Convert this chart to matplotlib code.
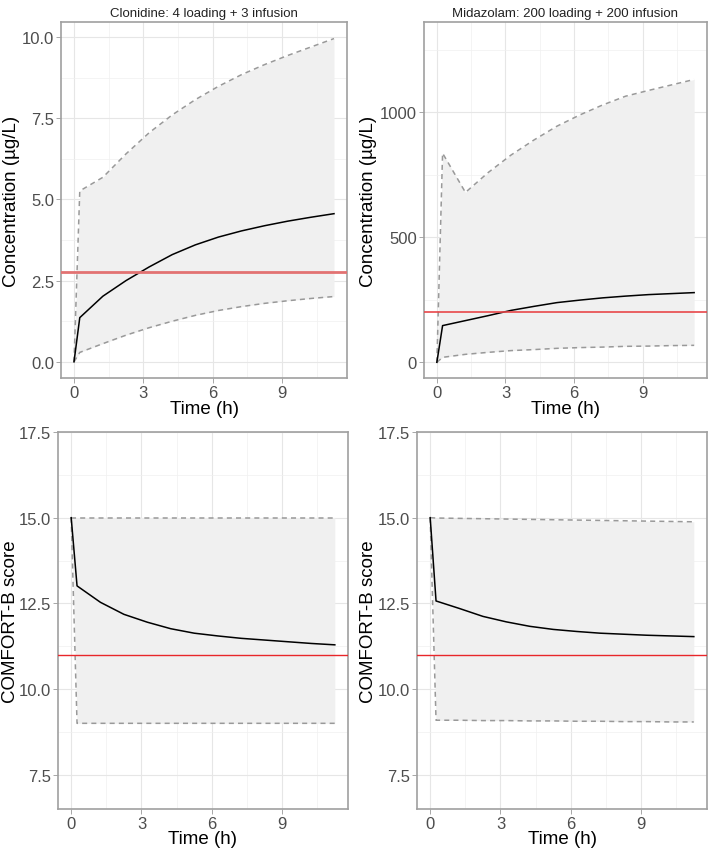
import matplotlib.pyplot as plt
import numpy as np

plt.rcParams['font.family'] = ['Liberation Sans', 'DejaVu Sans']

# time points (h)
time = [0, 0.25, 1.25, 2.25, 3.25, 4.25, 5.25, 6.25, 7.25, 8.25, 9.25, 10.25, 11.25]

# clonidine concentration (ug/L)
clon_med = [0, 1.36, 2.02, 2.50, 2.92, 3.30, 3.60, 3.84, 4.03, 4.19, 4.33, 4.45, 4.56]
clon_lo = [0, 0.29, 0.56, 0.82, 1.05, 1.25, 1.43, 1.58, 1.70, 1.80, 1.88, 1.95, 2.01]
clon_hi = [0, 5.26, 5.68, 6.40, 7.05, 7.60, 8.07, 8.48, 8.84, 9.15, 9.43, 9.69, 9.95]
clon_target = 2.75

# midazolam concentration (ug/L)
mida_med = [0, 147, 167, 187, 208, 224, 239, 249, 258, 265, 271, 275, 279]
mida_lo = [0, 20, 32, 40, 47, 51, 56, 59, 61, 64, 65, 67, 68]
mida_hi = [0, 837, 680, 760, 830, 890, 945, 990, 1030, 1065, 1088, 1110, 1132]
mida_target = 203

# COMFORT-B scores
comf_clon_med = [15, 13.01, 12.53, 12.18, 11.95, 11.76, 11.63, 11.55, 11.48, 11.43, 11.38, 11.33, 11.29]
comf_clon_lo = [15, 9.0, 9.0, 9.0, 9.0, 9.0, 9.0, 9.0, 9.0, 9.0, 9.0, 9.0, 9.0]
comf_clon_hi = [15, 15, 15, 15, 15, 15, 15, 15, 15, 15, 15, 15, 15]
comf_mida_med = [15, 12.57, 12.35, 12.12, 11.96, 11.83, 11.74, 11.68, 11.63, 11.60, 11.57, 11.55, 11.53]
comf_mida_lo = [15, 9.09, 9.09, 9.08, 9.08, 9.07, 9.07, 9.06, 9.06, 9.05, 9.05, 9.04, 9.04]
comf_mida_hi = [15, 14.99, 14.98, 14.97, 14.96, 14.95, 14.94, 14.93, 14.92, 14.91, 14.90, 14.89, 14.88]
comf_target = 11

titles = ['Clonidine: 4 loading + 3 infusion', 'Midazolam: 200 loading + 200 infusion']

W, H = 709, 854
fig = plt.figure(figsize=(W / 100, H / 100), dpi=100)


def make_ax(l, r, t, b):
    return fig.add_axes([l / W, 1 - b / H, (r - l) / W, (b - t) / H])


def draw(ax, med, lo, hi, target, ylim, yticks, ylabels, yminor, ylab,
         ylab_x, xlab_y, red_lw=1.0, red_col='#e8262a'):
    ax.set_facecolor('white')
    ax.fill_between(time, lo, hi, color='#f0f0f0', lw=0, zorder=1)
    ax.plot(time, hi, color='#999999', lw=1.1, ls=(0, (3.3, 2.7)), zorder=3)
    ax.plot(time, lo, color='#999999', lw=1.1, ls=(0, (3.3, 2.7)), zorder=3)
    ax.plot(time, med, color='black', lw=1.1, zorder=4)
    ax.axhline(target, color=red_col, lw=red_lw, zorder=5)
    ax.set_xlim(-0.5625, 11.8125)
    ax.set_ylim(*ylim)
    ax.set_xticks([0, 3, 6, 9])
    ax.set_xticks([1.5, 4.5, 7.5, 10.5], minor=True)
    ax.set_yticks(yticks)
    ax.set_yticklabels(ylabels)
    ax.set_yticks(yminor, minor=True)
    ax.grid(True, which='major', color='#e6e6e6', lw=0.8, zorder=0)
    ax.grid(True, which='minor', color='#f0f0f0', lw=0.5, zorder=0)
    ax.set_axisbelow(True)
    ax.tick_params(which='major', length=3.5, width=0.6, color='#999999',
                   labelsize=12, labelcolor='#4d4d4d', pad=1.5)
    ax.tick_params(which='minor', length=0)
    for s in ax.spines.values():
        s.set_color('#a0a0a0')
        s.set_linewidth(1.2)
    ax.set_xlabel('Time (h)', fontsize=13.5, va='top')
    ax.set_ylabel(ylab, fontsize=13.5, va='center')
    ax.xaxis.set_label_coords(0.5, xlab_y)
    ax.yaxis.set_label_coords(ylab_x, 0.5)


ax1 = make_ax(61, 347, 23, 379)
draw(ax1, clon_med, clon_lo, clon_hi, clon_target, (-0.498, 10.46),
     [0, 2.5, 5, 7.5, 10], ['0.0', '2.5', '5.0', '7.5', '10.0'],
     [1.25, 3.75, 6.25, 8.75], 'Concentration (µg/L)', -0.172, -0.062,
     red_lw=2.0, red_col='#e27272')
ax1.set_title(titles[0], fontsize=9.5, color='#222222', pad=4)

ax2 = make_ax(424, 707, 23, 379)
draw(ax2, mida_med, mida_lo, mida_hi, mida_target, (-62.7, 1362),
     [0, 500, 1000], ['0', '500', '1000'],
     [250, 750, 1250], 'Concentration (µg/L)', -0.195, -0.062,
     red_lw=1.2, red_col='#e8474a')
ax2.set_title(titles[1], fontsize=9.5, color='#222222', pad=4)

ax3 = make_ax(58, 348, 433, 810)
draw(ax3, comf_clon_med, comf_clon_lo, comf_clon_hi, comf_target, (6.5, 17.5),
     [7.5, 10, 12.5, 15, 17.5], ['7.5', '10.0', '12.5', '15.0', '17.5'],
     [8.75, 11.25, 13.75, 16.25], 'COMFORT-B score', -0.163, -0.056)

ax4 = make_ax(417, 707, 433, 810)
draw(ax4, comf_mida_med, comf_mida_lo, comf_mida_hi, comf_target, (6.5, 17.5),
     [7.5, 10, 12.5, 15, 17.5], ['7.5', '10.0', '12.5', '15.0', '17.5'],
     [8.75, 11.25, 13.75, 16.25], 'COMFORT-B score', -0.168, -0.056)

fig.savefig('out.png', dpi=100, facecolor='white')
